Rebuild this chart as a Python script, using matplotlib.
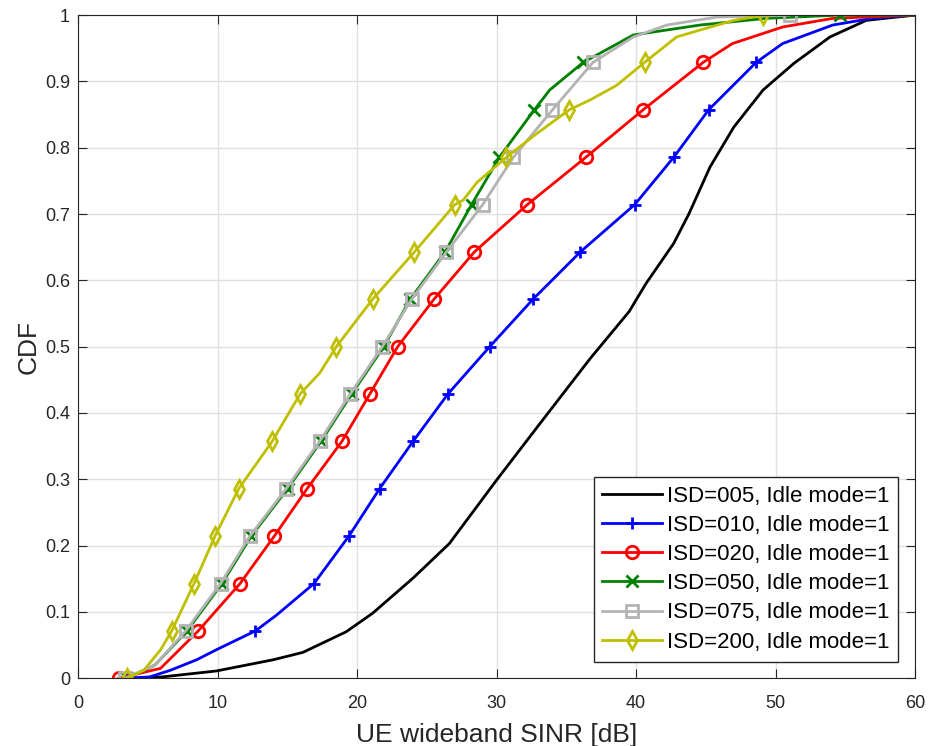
import matplotlib.pyplot as plt
import numpy as np

plt.rcParams['font.family'] = ['Liberation Sans', 'DejaVu Sans']

# CDF levels where markers sit (every 1/14)
MK_Y = [k / 14 for k in range(15)]

# ISD=005 (no markers)
BLACK_X = [3.5, 6.0, 9.9, 14.0, 16.1, 19.2, 21.1, 24.0, 26.6, 30.0, 33.1, 36.7, 39.5,
           40.7, 42.7, 43.8, 45.3, 47.0, 49.1, 51.3, 53.9, 56.5, 60.0]
BLACK_Y = [0, 0.002, 0.011, 0.028, 0.039, 0.070, 0.098, 0.151, 0.203, 0.299, 0.384, 0.482,
           0.553, 0.595, 0.656, 0.701, 0.771, 0.831, 0.887, 0.927, 0.967, 0.992, 1.0]

# x positions of markers (levels 0..n) and extra curve points
BLUE_MK = [3.5, 12.7, 16.9, 19.4, 21.6, 24.0, 26.5, 29.5, 32.6, 36.0, 39.9, 42.7, 45.2, 48.6]
BLUE_EX_X = [5.1, 6.6, 8.5, 9.9, 14.2, 50.5, 54.1, 56.9, 60.0]
BLUE_EX_Y = [0.002, 0.012, 0.028, 0.043, 0.095, 0.957, 0.985, 0.995, 1.0]

RED_MK = [2.9, 8.6, 11.6, 14.05, 16.4, 18.9, 20.9, 22.9, 25.5, 28.4, 32.2, 36.4, 40.5, 44.8]
RED_EX_X = [5.9, 46.9, 50.5, 54.1, 60.0]
RED_EX_Y = [0.015, 0.957, 0.982, 0.995, 1.0]

GREEN_MK = [3.5, 7.8, 10.3, 12.4, 15.0, 17.4, 19.6, 21.9, 23.8, 26.3, 28.2, 30.2, 32.7, 36.2, 54.6]
GREEN_EX_X = [5.5, 33.8, 39.8, 44.6, 49.3, 60.0]
GREEN_EX_Y = [0.02, 0.887, 0.970, 0.985, 0.995, 1.0]

GRAY_MK = [3.35, 7.7, 10.2, 12.3, 14.9, 17.3, 19.5, 21.8, 23.9, 26.4, 29.0, 31.2, 34.0, 36.9, 51.0]
GRAY_EX_X = [5.5, 39.8, 42.2, 45.8]
GRAY_EX_Y = [0.02, 0.967, 0.985, 0.997]

YEL_MK = [3.5, 6.7, 8.3, 9.8, 11.5, 13.9, 15.9, 18.5, 21.1, 24.1, 27.0, 30.7, 35.2, 40.6, 49.1]
YEL_EX_X = [4.7, 5.9, 17.3, 27.6, 28.6, 32.6, 36.7, 38.6, 42.9, 45.0, 47.0]
YEL_EX_Y = [0.012, 0.043, 0.46, 0.721, 0.748, 0.817, 0.872, 0.894, 0.967, 0.980, 0.992]

LABELS = ['ISD=005, Idle mode=1', 'ISD=010, Idle mode=1', 'ISD=020, Idle mode=1',
          'ISD=050, Idle mode=1', 'ISD=075, Idle mode=1', 'ISD=200, Idle mode=1']


def build(mk_x, ex_x, ex_y):
    # merge marker points and extra points, keep marker indices
    xs = list(mk_x) + list(ex_x)
    ys = MK_Y[:len(mk_x)] + list(ex_y)
    is_mk = [True] * len(mk_x) + [False] * len(ex_x)
    order = np.lexsort((xs, ys))
    xs = np.array(xs)[order]
    ys = np.array(ys)[order]
    idx = [i for i, o in enumerate(order) if is_mk[o]]
    return xs, ys, idx


fig = plt.figure(figsize=(9.29, 7.46), dpi=100)
ax = fig.add_axes([0.0843, 0.0908, 0.9007, 0.889])

ax.plot(BLACK_X, BLACK_Y, color='k', lw=2, label=LABELS[0])

series = [
    (BLUE_MK, BLUE_EX_X, BLUE_EX_Y, 'b', '+', LABELS[1]),
    (RED_MK, RED_EX_X, RED_EX_Y, 'r', 'o', LABELS[2]),
    (GREEN_MK, GREEN_EX_X, GREEN_EX_Y, (0, 0.5, 0), 'x', LABELS[3]),
    (GRAY_MK, GRAY_EX_X, GRAY_EX_Y, (0.7, 0.7, 0.7), 's', LABELS[4]),
    (YEL_MK, YEL_EX_X, YEL_EX_Y, (0.75, 0.75, 0), 'd', LABELS[5]),
]
for mk, exx, exy, col, m, lab in series:
    xs, ys, idx = build(mk, exx, exy)
    ax.plot(xs, ys, color=col, lw=2, marker=m, markevery=idx, ms=9, mew=2,
            mfc='none', label=lab)

ax.set_xlim(0, 60)
ax.set_ylim(0, 1)
ax.set_xticks(np.arange(0, 61, 10))
ax.set_yticks(np.arange(0, 1.01, 0.1))
ax.set_yticklabels(['0', '0.1', '0.2', '0.3', '0.4', '0.5', '0.6', '0.7', '0.8', '0.9', '1'])
ax.tick_params(direction='in', top=True, right=True, labelsize=13, length=6.5,
               colors='#262626')
ax.tick_params(axis='x', pad=12)
ax.tick_params(axis='y', pad=6)
ax.grid(True, color='#e0e0e0', lw=1)
ax.set_axisbelow(True)
for s in ax.spines.values():
    s.set_color('#262626')
ax.set_xlabel('UE wideband SINR [dB]', fontsize=19, labelpad=8, color='#262626')
ax.set_ylabel('CDF', fontsize=19, labelpad=3, color='#262626')

leg = ax.legend(loc='lower right', fontsize=16, handlelength=2.7, borderaxespad=0.75,
                fancybox=False, framealpha=1, edgecolor='#262626', labelspacing=0.37,
                handletextpad=0.2, borderpad=0.4)
leg.get_frame().set_linewidth(1)

fig.savefig('out.png', dpi=100)
